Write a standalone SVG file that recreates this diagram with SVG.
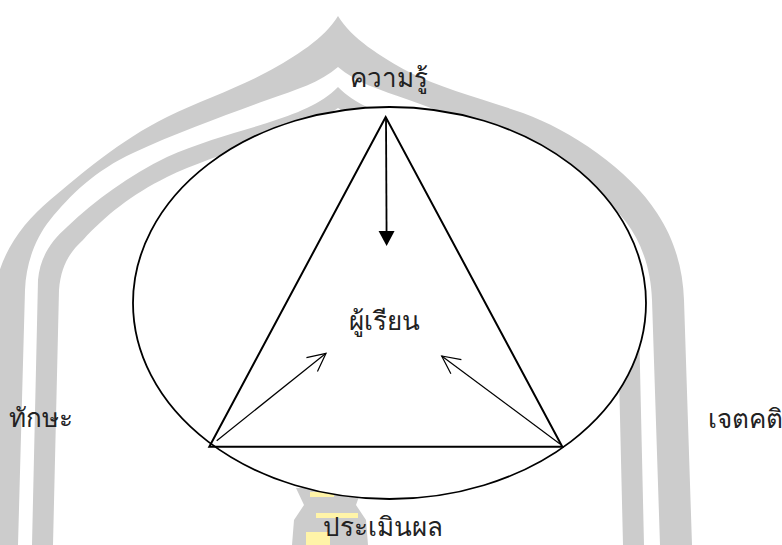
<svg xmlns="http://www.w3.org/2000/svg" width="782" height="545" viewBox="0 0 782 545">
<style>
.wm{fill:#cccccc;stroke:none}
.wy{fill:#fff4a8;stroke:none}
.lbl{font-family:"Noto Sans","DejaVu Sans",sans-serif;font-size:26px;font-weight:300;fill:#222}
.shape{fill:none;stroke:#000;stroke-width:2}
.thin{fill:none;stroke:#000;stroke-width:1.2}
</style>
<defs>
<marker id="solid" markerUnits="userSpaceOnUse" viewBox="0 0 15 16" refX="8" refY="8" markerWidth="15" markerHeight="16" orient="auto" overflow="visible">
<path d="M0,0 L15,8 L0,16 Z" fill="#000"/>
</marker>
<marker id="open" markerUnits="userSpaceOnUse" viewBox="-20 -10 22 20" refX="0" refY="0" markerWidth="22" markerHeight="20" orient="auto" overflow="visible">
<path d="M-18,-8.8 L0,0 L-18,8.8" fill="none" stroke="#000" stroke-width="1.2"/>
</marker>
</defs>
<rect width="782" height="545" fill="#fff"/>
<g id="watermark">
<path class="wm" d="M-12,545 L-6,300 C-4,260 20,225 50,200 C80,175 120,140 167,117 C200,101 240,87 267,72 C295,57 325,38 338,16 C351,38 381,57 409,72 C440,88 480,98 523,113 C570,130 630,170 657,213 C675,240 683,270 684,300 L692,545 L660,545 L652,300 C651,270 642,243 626,222 C605,195 580,170 543,153 C500,133 450,115 409,100 C380,90 355,82 338,67 C321,82 296,90 267,100 C226,115 176,133 133,153 C96,170 70,195 50,220 C34,240 26,265 25,290 L18,545 Z"/>
<path class="wm" d="M32,545 L38,280 C40,258 50,242 67,227 C95,200 130,175 167,157 C200,142 235,133 267,123 C295,114 322,104 338,87 C354,104 381,114 409,123 C441,133 476,142 509,157 C546,175 581,200 609,227 C626,242 636,258 638,280 L644,545 L623,545 L617,290 C615,265 606,252 593,240 C570,215 545,195 509,177 C480,163 440,150 409,140 C380,130 355,120 338,108 C321,120 296,130 267,140 C236,150 196,163 167,177 C131,195 106,215 83,240 C70,252 61,265 59,290 L53,545 Z"/>
<path class="wm" d="M296,488 L362,488 L356,505 L366,520 L368,545 L292,545 L294,520 L304,505 Z"/>
<rect class="wy" x="310" y="492" width="24" height="5"/>
<rect class="wy" x="316" y="513" width="42" height="5"/>
<rect class="wy" x="306" y="532" width="24" height="13"/>
</g>
<g id="frame">
<ellipse cx="389.5" cy="303" rx="256.5" ry="196" fill="#fff" stroke="#000" stroke-width="1.8"/>
<polygon class="shape" points="385.7,117 209.3,446.7 562.3,446.7"/>
</g>
<g id="connectors">
<line x1="386" y1="117" x2="386.6" y2="239" stroke="#000" stroke-width="1.8" marker-end="url(#solid)"/>
<line class="thin" x1="216.7" y1="440.7" x2="326" y2="353.3" marker-end="url(#open)"/>
<line class="thin" x1="560" y1="444" x2="441.7" y2="356" marker-end="url(#open)"/>
</g>
<g id="node-knowledge"><text class="lbl" x="389" y="87" text-anchor="middle">ความรู้</text></g>
<g id="node-learner"><text class="lbl" x="384" y="330" text-anchor="middle">ผู้เรียน</text></g>
<g id="node-skill"><text class="lbl" x="9" y="427">ทักษะ</text></g>
<g id="node-attitude"><text class="lbl" x="708" y="428">เจตคติ</text></g>
<g id="node-evaluation"><text class="lbl" x="382.5" y="536" text-anchor="middle">ประเมินผล</text></g>
</svg>
